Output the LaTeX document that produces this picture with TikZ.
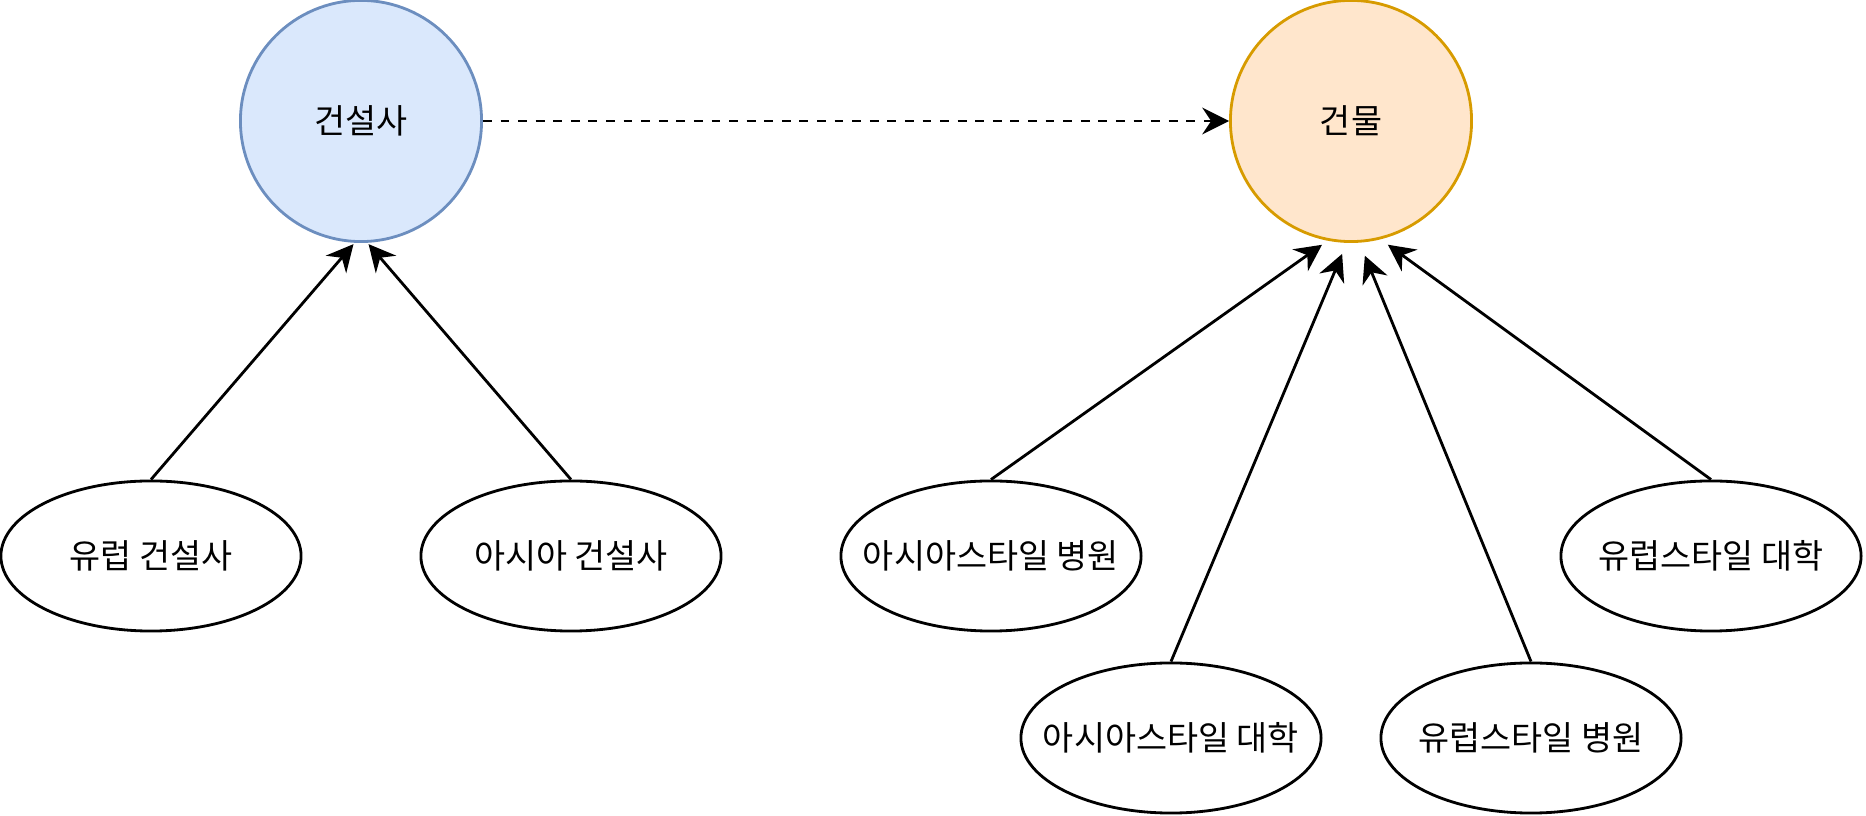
\documentclass[tikz,border=0pt]{standalone}
\usepackage{fontspec}
\setmainfont{Noto Sans CJK KR}
\usetikzlibrary{arrows.meta,shapes.geometric}
\definecolor{conFill}{HTML}{DAE8FC}
\definecolor{conLine}{HTML}{6C8EBF}
\definecolor{bldFill}{HTML}{FFE6CC}
\definecolor{bldLine}{HTML}{D79B00}
\newcommand\kindname[1]{\makebox[0pt]{#1}}
\begin{document}
\begin{tikzpicture}[x=0.01cm, y=-0.01cm, font=\fontsize{9.6}{11.5}\selectfont, line join=round, line width=0.8pt,
	>={Stealth[length=7.6pt, width=7.6pt, inset=2.5pt]},
	hub/.style={circle, draw, minimum size=2.41cm, inner sep=0pt},
	kind/.style={ellipse, draw, minimum width=3cm, minimum height=1.5cm, inner sep=0pt}]
	\useasboundingbox (0,0) rectangle (1866,816);
	\node[hub, draw=conLine, fill=conFill] (con) at (361,121) {건설사};
	\node[hub, draw=bldLine, fill=bldFill] (bld) at (1351,121) {건물};
	\node[kind] (euCon) at (151,556) {\kindname{유럽 건설사}};
	\node[kind] (asCon) at (571,556) {\kindname{아시아 건설사}};
	\node[kind] (asHosp) at (991,556) {\kindname{아시아스타일 병원}};
	\node[kind] (euUniv) at (1711,556) {\kindname{유럽스타일 대학}};
	\node[kind] (asUniv) at (1171,738) {\kindname{아시아스타일 대학}};
	\node[kind] (euHosp) at (1531,738) {\kindname{유럽스타일 병원}};
	\draw[->, dash pattern=on 2.5pt off 2.5pt] (con) -- (bld);
	\foreach \s/\a/\g in {euCon/267/0.5, asCon/273/0.5}
	\draw[->, shorten >=\g pt] (\s.north) -- (con.\a);
	\foreach \s/\a/\g in {asHosp/259/2, asUniv/268/3.4, euHosp/274/4, euUniv/284/2.6}
	\draw[->, shorten >=\g pt] (\s.north) -- (bld.\a);
\end{tikzpicture}
\end{document}
